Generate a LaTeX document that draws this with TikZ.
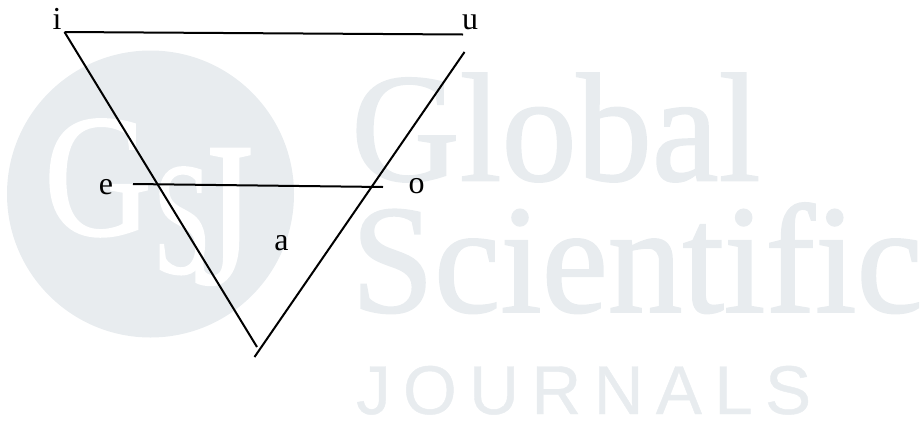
\documentclass[tikz,border=0pt]{standalone}
\usepackage{fontspec}
\setmainfont{Liberation Serif}
\newfontfamily\wmserif[FakeBold=1.2]{Liberation Serif}
\newfontfamily\wmsans[LetterSpace=18,FakeBold=0.6]{Liberation Sans}
\definecolor{wm}{HTML}{E8ECEF}
\tikzset{
  lbl/.style={inner sep=0pt,font=\fontsize{32}{32}\selectfont,text=black,anchor=base},
  wmtext/.style={inner sep=0pt,text=wm,anchor=base west},
  edgeline/.style={draw=black,line width=2pt},
  wmletter/.style={inner sep=0pt,text=white,anchor=base west}
}
\begin{document}
\begin{tikzpicture}[x=1pt,y=-1pt]
\useasboundingbox (0,0) rectangle (921,421);
\fill[wm] (150.5,194) circle (143.5);
\node[wmletter,font=\wmserif\fontsize{175}{175}\selectfont,xscale=.85] (wg) at (44,235) {G};
\node[wmletter,font=\wmserif\fontsize{160}{160}\selectfont,xscale=.65] (ws) at (153,273) {S};
\node[wmletter,font=\wmserif\fontsize{205}{205}\selectfont,xscale=.75] (wj) at (193,283) {J};
\node[wmtext,font=\wmserif\fontsize{155}{155}\selectfont,xscale=.97] (global) at (351,180.5) {Global};
\node[wmtext,font=\wmserif\fontsize{155}{155}\selectfont,xscale=.962] (sci) at (351,312) {Scientific};
\node[wmtext,font=\wmsans\fontsize{69}{69}\selectfont] (jour) at (356,414) {JOURNALS};
\coordinate (ia) at (64.5,32);
\coordinate (ib) at (463,34.5);
\coordinate (ic) at (257,347);
\coordinate (ub) at (254.5,357);
\coordinate (ut) at (464.5,52);
\coordinate (el) at (133,184);
\coordinate (er) at (383,187);
\draw[edgeline] (ia) -- (ib);
\draw[edgeline] (ia) -- (ic);
\draw[edgeline] (ub) -- (ut);
\draw[edgeline] (el) -- (er);
\node[lbl] (i) at (57,29) {i};
\node[lbl] (u) at (470,29) {u};
\node[lbl] (e) at (106,194) {e};
\node[lbl] (o) at (416.5,193.5) {o};
\node[lbl] (a) at (281.5,250) {a};
\end{tikzpicture}
\end{document}
